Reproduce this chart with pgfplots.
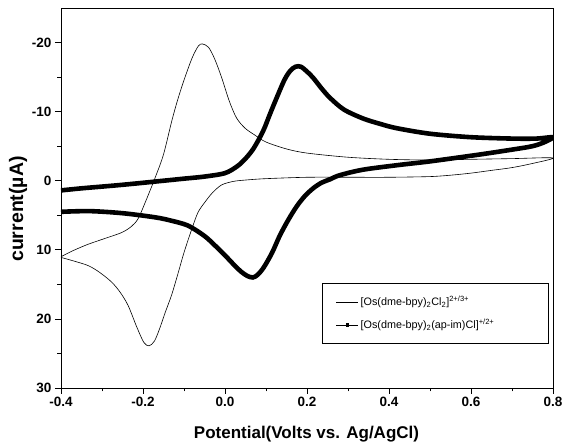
\documentclass[border=0pt]{standalone}
\usepackage{pgfplots}
\pgfplotsset{compat=1.18}
\usepackage{fontspec}
\setmainfont{Liberation Sans}
\begin{document}
\begin{tikzpicture}
\begin{axis}[
  scale only axis,
  width=492pt, height=380pt,
  xmin=-0.4, xmax=0.8,
  ymin=-25, ymax=30,
  y dir=reverse,
  xtick={-0.4,-0.2,0,0.2,0.4,0.6,0.8},
  ytick={-20,-10,0,10,20,30},
  minor x tick num=1,
  minor y tick num=1,
  tick pos=left,
  tick align=outside,
  major tick length=6pt,
  minor tick length=3.5pt,
  axis line style={line width=0.9pt},
  every tick/.style={black, line width=0.8pt},
  /pgf/number format/assume math mode=true,
  tick label style={font=\bfseries\fontsize{13.5}{15}\selectfont},
  xticklabel style={/pgf/number format/fixed, /pgf/number format/fixed zerofill, /pgf/number format/precision=1},
  xlabel={Potential(Volts vs. Ag/AgCl)},
  ylabel={current(\textmu A)},
  xlabel style={font=\bfseries\fontsize{17}{19}\selectfont, at={(axis description cs:0.499,-0.1316)}, anchor=base},
  ylabel style={font=\bfseries\fontsize{19.5}{21}\selectfont, at={(axis description cs:-0.087,0.471)}, anchor=center},
  legend cell align=left,
  legend image code/.code={\draw[mark repeat=2,mark phase=2,#1] plot coordinates {(0pt,0pt) (11pt,0pt) (22pt,0pt)};},
  legend style={at={(axis description cs:0.530,0.276)}, anchor=north west,
    font=\fontsize{10.8}{12}\selectfont, draw=black, line width=0.6pt,
    inner xsep=14pt, inner ysep=11pt, row sep=8pt},
]
% thin curve: [Os(dme-bpy)2Cl2]
\addplot[black, line width=0.6pt, smooth, tension=0.5] coordinates {
(-0.4,11.0) (-0.37,10.1) (-0.334,9.2) (-0.30,8.5) (-0.252,7.5) (-0.228,6.6) (-0.212,5.5)
(-0.195,3.2) (-0.17,-0.5) (-0.15,-3.8) (-0.13,-8.6) (-0.115,-11.8) (-0.098,-14.9)
(-0.08,-17.8) (-0.065,-19.5) (-0.055,-19.8) (-0.04,-19.3) (-0.025,-17.6) (-0.008,-14.9)
(0.01,-11.6) (0.028,-9.1) (0.049,-7.6) (0.073,-6.6) (0.1,-5.6) (0.15,-4.6) (0.2,-4.0)
(0.3,-3.4) (0.4,-3.1) (0.5,-3.0) (0.6,-3.1) (0.7,-3.2) (0.8,-3.3)
(0.75,-2.5) (0.7,-1.9) (0.65,-1.5) (0.6,-1.1) (0.55,-0.8) (0.5,-0.6) (0.4,-0.5)
(0.3,-0.5) (0.2,-0.5) (0.1,-0.3) (0.05,-0.1) (0.02,0.1) (-0.008,0.6) (-0.03,1.7)
(-0.049,3.1) (-0.066,4.6) (-0.081,7.0) (-0.1,10.4) (-0.114,13.3) (-0.13,16.5)
(-0.146,19.1) (-0.16,21.5) (-0.172,23.2) (-0.185,23.9) (-0.198,23.4) (-0.215,21.2)
(-0.236,18.1) (-0.255,16.2) (-0.276,14.7) (-0.305,13.3) (-0.333,12.3) (-0.37,11.6) (-0.4,11.1)
};
\addlegendentry{\makebox[172pt][l]{[Os(dme-bpy)\textsubscript{2}Cl\textsubscript{2}]\textsuperscript{2+/3+}}}
% thick curve: [Os(dme-bpy)2(ap-im)Cl]
\addplot[black, line width=4.6pt, smooth, tension=0.5, forget plot] coordinates {
(-0.4,1.4) (-0.35,1.1) (-0.3,0.85) (-0.252,0.6) (-0.2,0.3) (-0.15,0.0) (-0.1,-0.3)
(-0.05,-0.6) (0.0,-1.1) (0.03,-2.1) (0.05,-3.2) (0.07,-4.7) (0.093,-7.2) (0.11,-9.7)
(0.126,-12.0) (0.145,-14.6) (0.159,-15.9) (0.172,-16.5) (0.185,-16.5) (0.2,-15.8)
(0.215,-14.9) (0.235,-13.4) (0.256,-12.0) (0.29,-10.3) (0.337,-9.0) (0.38,-8.2)
(0.419,-7.6) (0.5,-6.8) (0.6,-6.3) (0.7,-6.1) (0.76,-6.1) (0.8,-6.3)
(0.78,-5.6) (0.75,-5.0) (0.7,-4.5) (0.622,-3.8) (0.5,-2.8) (0.427,-2.3) (0.337,-1.6)
(0.28,-0.8) (0.256,-0.2) (0.235,0.3) (0.215,1.1) (0.195,2.2) (0.175,3.7) (0.155,5.6)
(0.134,7.9) (0.115,10.4) (0.095,12.5) (0.08,13.6) (0.068,14.0) (0.055,13.8) (0.04,13.2)
(0.024,12.3) (0.0,10.8) (-0.024,9.4) (-0.05,8.0) (-0.09,6.5) (-0.13,5.8) (-0.17,5.3)
(-0.25,4.7) (-0.33,4.4) (-0.4,4.5)
};
\addlegendimage{black, line width=0.6pt, mark=square*, mark size=1.4pt}
\addlegendentry{\makebox[172pt][l]{[Os(dme-bpy)\textsubscript{2}(ap-im)Cl]\textsuperscript{+/2+}}}
\end{axis}
\pgfresetboundingbox
\useasboundingbox ([xshift=-61pt,yshift=-55pt]current axis.south west) rectangle ([xshift=16pt,yshift=8pt]current axis.north east);
\end{tikzpicture}
\end{document}
